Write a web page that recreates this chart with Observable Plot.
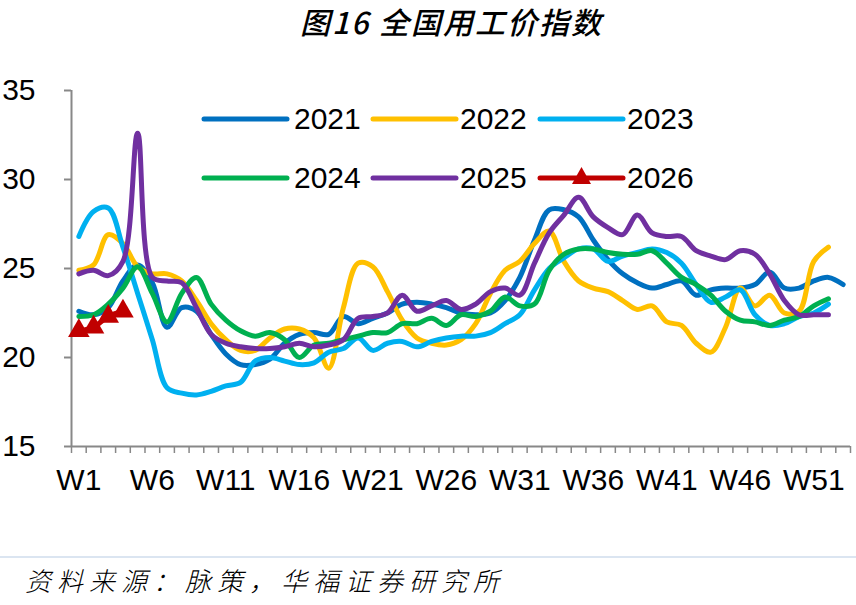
<!DOCTYPE html>
<html><head><meta charset="utf-8">
<script src="https://cdn.jsdelivr.net/npm/d3@7"></script>
<script src="https://cdn.jsdelivr.net/npm/@observablehq/plot@0.6"></script>
<style>
body{margin:0;background:#fff;width:856px;height:605px;position:relative;overflow:hidden;font-family:"Liberation Sans",Arial,sans-serif;}
#title{position:absolute;top:5px;left:300px;white-space:nowrap;font-family:"Noto Sans CJK SC",sans-serif;font-style:italic;font-weight:500;font-size:30px;line-height:32px;letter-spacing:2px;color:#000;}
#chart{position:absolute;top:50px;left:0;}
#sep{position:absolute;top:556px;left:0;width:856px;height:2px;background:#dbe5f1;}
#caption{position:absolute;top:565px;left:25px;white-space:nowrap;font-family:"Noto Sans CJK SC",sans-serif;font-style:italic;font-weight:300;font-size:26px;line-height:30px;letter-spacing:6px;color:#000;}
.lg{position:absolute;font-size:30px;line-height:30px;color:#000;white-space:nowrap;}
.sw{position:absolute;}
</style></head>
<body>
<div id="title">图16 全国用工价指数</div>
<div id="chart"></div>
<div id="sep"></div>
<div id="caption">资料来源：脉策，华福证券研究所</div>
<script>
const years = ["2021","2022","2023","2024","2025","2026"];
const colors = ["#0070C0","#FFC000","#00B0F0","#00B050","#7030A0","#C00000"];
const weekTicks = [1,6,11,16,21,26,31,36,41,46,51];
const yTicks = [15,20,25,30,35];

const s2021 = [22.6,22.4,22.8,24.3,25.2,24.2,21.7,22.8,22.6,21.3,20.2,19.6,19.6,19.9,20.8,21.3,21.4,21.3,22.3,21.9,22.2,22.5,23.0,23.1,23.0,22.8,22.5,22.4,22.5,23.2,24.5,26.6,28.3,28.3,27.9,26.6,25.5,24.7,24.2,23.9,24.1,24.3,23.5,23.8,23.9,23.9,24.1,24.8,23.9,23.9,24.3,24.5,24.1];
const s2022 = [24.9,25.2,26.9,26.4,25.1,24.7,24.7,24.3,23.2,21.9,21.0,20.4,20.4,21.1,21.6,21.6,21.1,19.4,22.8,25.3,25.1,23.7,22.1,21.1,20.8,20.7,21.0,21.9,23.6,24.9,25.4,26.4,27.1,25.4,24.3,23.9,23.7,23.2,22.7,22.9,22.0,21.8,20.8,20.3,21.7,23.9,22.9,23.5,22.5,22.6,25.4,26.2];
const s2023 = [26.8,28.2,28.4,26.2,23.6,21.0,18.3,18.0,17.9,18.1,18.4,18.6,19.8,20.0,19.8,19.6,19.7,20.3,20.5,21.1,20.4,20.8,20.9,20.6,20.9,21.1,21.2,21.2,21.4,21.9,22.4,23.8,25.0,25.6,26.1,26.1,25.4,25.7,25.9,26.1,25.9,25.3,24.1,23.1,23.4,23.8,22.4,21.8,21.9,22.3,22.5,23.0];
const s2024 = [22.3,22.4,23.0,23.9,25.1,23.6,22.0,23.6,24.5,23.0,22.1,21.5,21.2,21.4,21.0,20.0,20.7,20.8,21.0,21.2,21.4,21.4,21.9,21.9,22.2,21.8,22.4,22.3,22.6,23.4,22.9,23.0,24.9,25.8,26.1,26.1,25.9,25.8,25.8,26.0,25.3,24.5,24.1,23.5,22.6,22.1,22.0,21.8,22.1,22.3,22.9,23.3];
const s2025 = [24.7,24.9,24.6,25.4,32.6,24.5,24.3,24.2,22.8,21.3,20.8,20.6,20.5,20.5,20.6,20.8,20.6,20.7,21.0,22.2,22.3,22.5,23.5,22.6,22.9,23.2,22.7,23.0,23.7,23.9,23.5,25.3,27.0,28.0,29.0,27.9,27.3,26.9,28.0,27.0,26.8,26.8,26.0,25.7,25.5,26.0,25.8,24.7,23.2,22.4,22.4,22.4];
const s2026 = [21.5,21.7,22.3,22.6];

const series = [s2021,s2022,s2023,s2024,s2025];
const data = [];
series.forEach((s,i)=>s.forEach((v,j)=>data.push({year:years[i],week:j+1,value:v})));
const d2026 = s2026.map((v,j)=>({year:"2026",week:j+1,value:v}));

const chart = Plot.plot({
  width:856, height:505,
  marginLeft:71, marginRight:6, marginTop:40, marginBottom:109,
  x:{domain:[0.5,53.5], label:null},
  y:{domain:[15,35], label:null},
  color:{domain:years, range:colors},
  style:{fontFamily:"'Liberation Sans', Arial, sans-serif", fontSize:"30px", color:"#000", background:"white", overflow:"visible"},
  marks:[
    Plot.axisY({ticks:yTicks, tickSize:7, tickPadding:29, fontSize:30, stroke:"#888", strokeWidth:2, tickFormat:d=>String(d), label:null}),
    Plot.axisX({ticks:d3.range(0.5,54,1), tickSize:7, tickFormat:()=>"", stroke:"#888", strokeWidth:1.5, label:null}),
    Plot.axisX({ticks:weekTicks, tickSize:0, tickPadding:22, fontSize:30, tickFormat:d=>"W"+d, label:null}),
    Plot.ruleX([0.5],{stroke:"#888",strokeWidth:2}),
    Plot.ruleY([15],{stroke:"#888",strokeWidth:2}),
    Plot.line(data,{x:"week",y:"value",stroke:"year",z:"year",strokeWidth:5,curve:"catmull-rom",strokeLinecap:"round",strokeLinejoin:"round"}),
    Plot.line(d2026,{x:"week",y:"value",stroke:colors[5],strokeWidth:5,curve:"catmull-rom"}),
    Plot.dot(d2026,{x:"week",y:"value",symbol:"triangle",r:8,fill:colors[5],stroke:"none"})
  ]
});
document.getElementById("chart").appendChild(chart);

// legend (HTML overlay)
const lgCols = [[204,294],[373,460],[540,627]];
const lgRows = [119,178];
years.forEach((y,i)=>{
  const c = lgCols[i%3], cy = lgRows[Math.floor(i/3)];
  const sw = document.createElementNS("http://www.w3.org/2000/svg","svg");
  sw.setAttribute("class","sw");
  sw.setAttribute("width",90); sw.setAttribute("height",30);
  sw.style.left=(c[0]-3)+"px"; sw.style.top=(cy-15)+"px";
  let inner = `<line x1="3" y1="15" x2="86" y2="15" stroke="${colors[i]}" stroke-width="5" stroke-linecap="round"/>`;
  if(y==="2026") inner += `<path d="M44.5,4 L54,21 L35,21 Z" fill="${colors[i]}"/>`;
  sw.innerHTML = inner;
  document.body.appendChild(sw);
  const t = document.createElement("div");
  t.className="lg"; t.textContent=y;
  t.style.left=c[1]+"px"; t.style.top=(cy-15)+"px";
  document.body.appendChild(t);
});
</script>
</body></html>
